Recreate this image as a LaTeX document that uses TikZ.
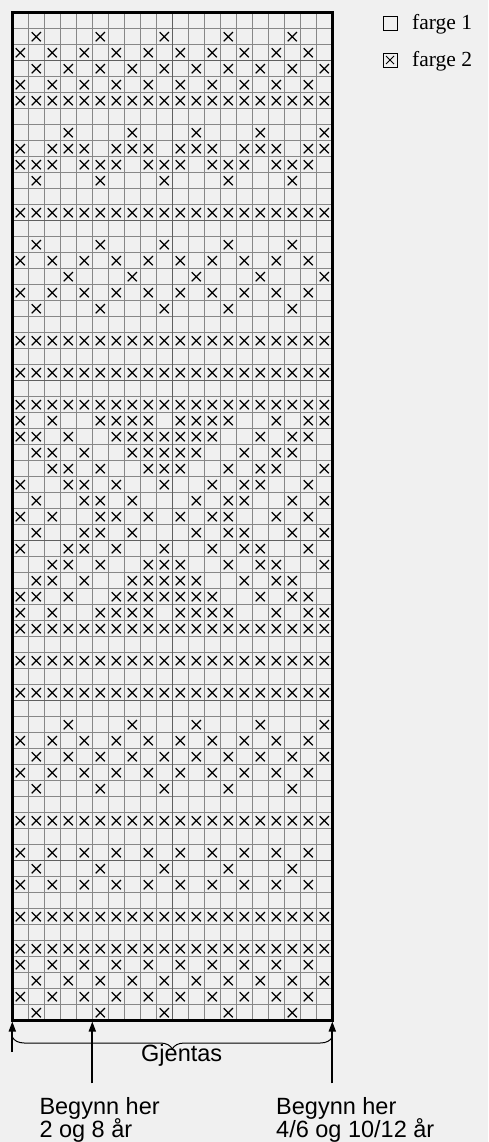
\documentclass[tikz,border=0pt]{standalone}
\usepackage{fontspec}
\setmainfont{Liberation Sans}
\newfontfamily\legfont{Liberation Serif}
\usetikzlibrary{arrows.meta,decorations.pathreplacing}
\definecolor{bg}{RGB}{240,240,240}
\definecolor{gridc}{RGB}{135,135,135}
\definecolor{gridd}{RGB}{95,95,95}
\begin{document}
\begin{tikzpicture}[x=1pt,y=-1pt,
  gridline/.style={draw=gridc,line width=0.9pt},
  majorline/.style={draw=gridd,line width=1.4pt},
  frame/.style={draw=black,line width=3pt},
  cross/.style={draw=black,line width=1.25pt},
  pointer/.style={draw=black,line width=1.7pt,-{Triangle[width=7pt,length=10pt]}},
  bracestyle/.style={draw=black,line width=1pt,decorate,decoration={brace,amplitude=12pt,mirror}},
  lab/.style={font=\fontsize{23.5}{26}\selectfont,inner sep=0pt,anchor=base west},
  leg/.style={font=\legfont\fontsize{21.5}{24}\selectfont,inner sep=0pt,anchor=base west},
  keybox/.style={draw=black,line width=0.8pt,minimum size=14pt,inner sep=0pt}]
\fill[bg] (0,0) rectangle (488,1142);
\useasboundingbox (0,0) rectangle (488,1142);
% grid
\foreach \c in {1,...,19} \draw[gridline] ({12.3+16*\c},12.7) -- ({12.3+16*\c},1020.7);
\foreach \r in {1,...,62} \draw[gridline] (12.3,{12.7+16*\r}) -- (332.3,{12.7+16*\r});
\draw[majorline] (172.3,12.7) -- (172.3,1020.7);
\foreach \r in {3,13,...,53} \draw[majorline] (12.3,{12.7+16*\r}) -- (332.3,{12.7+16*\r});
% crosses
\foreach \r/\cols in {
2/{2,6,10,14,18},
3/{1,3,...,19},
4/{2,4,...,20},
5/{1,3,...,19},
6/{1,...,20},
8/{4,8,12,16,20},
9/{1,3,4,5,7,8,9,11,12,13,15,16,17,19,20},
10/{1,2,3,5,6,7,9,10,11,13,14,15,17,18,19},
11/{2,6,10,14,18},
13/{1,...,20},
15/{2,6,10,14,18},
16/{1,3,...,19},
17/{4,8,12,16,20},
18/{1,3,...,19},
19/{2,6,10,14,18},
21/{1,...,20},
23/{1,...,20},
25/{1,...,20},
26/{1,3,6,7,8,9,11,12,13,14,17,19,20},
27/{1,2,4,7,8,9,10,11,12,13,16,18,19},
28/{2,3,5,8,9,10,11,12,15,17,18},
29/{3,4,6,9,10,11,14,16,17,20},
30/{1,4,5,7,10,13,15,16,19},
31/{2,5,6,8,12,14,15,18,20},
32/{1,3,6,7,9,11,13,14,17,19},
33/{2,5,6,8,12,14,15,18,20},
34/{1,4,5,7,10,13,15,16,19},
35/{3,4,6,9,10,11,14,16,17,20},
36/{2,3,5,8,9,10,11,12,15,17,18},
37/{1,2,4,7,8,9,10,11,12,13,16,18,19},
38/{1,3,6,7,8,9,11,12,13,14,17,19,20},
39/{1,...,20},
41/{1,...,20},
43/{1,...,20},
45/{4,8,12,16,20},
46/{1,3,...,19},
47/{2,4,...,20},
48/{1,3,...,19},
49/{2,6,10,14,18},
51/{1,...,20},
53/{1,3,...,19},
54/{2,6,10,14,18},
55/{1,3,...,19},
57/{1,...,20},
59/{1,...,20},
60/{1,3,...,19},
61/{2,4,...,20},
62/{1,3,...,19},
63/{2,6,10,14,18}}
{
  \foreach \c in \cols {
    \draw[cross] ({16*\c-0.3},{16*\r+0.1}) -- ++(9.2,9.2)
                 ({16*\c-0.3},{16*\r+9.3}) -- ++(9.2,-9.2);
  }
}
\draw[frame] (12.3,12.7) rectangle (332.3,1020.7);
% pointers
\coordinate (tL) at (12.3,1021.5);  \coordinate (eL) at (12.3,1052);
\coordinate (tM) at (92.3,1021.5);  \coordinate (eM) at (92.3,1083.3);
\coordinate (tR) at (332.3,1021.5); \coordinate (eR) at (332.3,1083.3);
\draw[pointer] (eL) -- (tL);
\draw[pointer] (eM) -- (tM);
\draw[pointer] (eR) -- (tR);
\coordinate (bl) at (12.3,1037); \coordinate (br) at (332.3,1037);
\draw[bracestyle] (bl) -- (br);
\node[lab] (rep) at (141,1061.7) {Gjentas};
\node[lab] (s1a) at (39.3,1114.3) {Begynn her};
\node[lab] (s1b) at (39.3,1137.7) {2 og 8 år};
\node[lab] (s2a) at (276,1114.3) {Begynn her};
\node[lab] (s2b) at (276,1137.7) {4/6 og 10/12 år};
% legend
\node[keybox] (k1) at (390,23) {};
\node[leg] (l1) at (412,29.3) {farge 1};
\node[keybox] (k2) at (390,60) {};
\draw[line width=0.8pt] (386,56) -- (394,64) (386,64) -- (394,56);
\node[leg] (l2) at (412,66.3) {farge 2};
\end{tikzpicture}
\end{document}
